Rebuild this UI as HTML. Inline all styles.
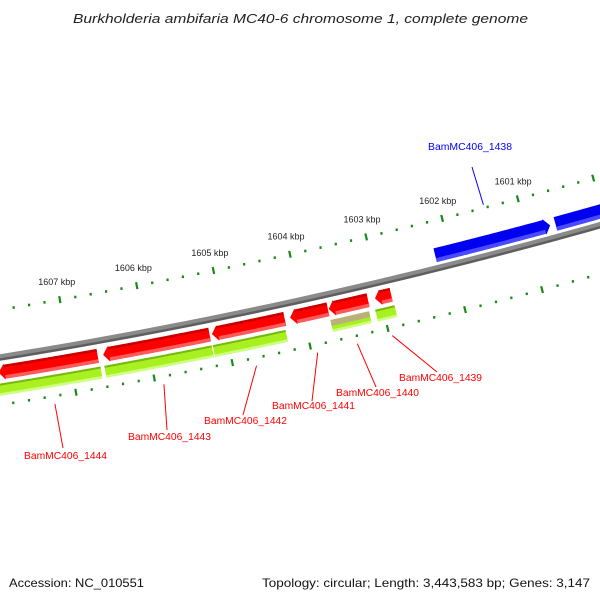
<!DOCTYPE html>
<html><head><meta charset="utf-8"><style>
html,body{margin:0;padding:0;background:#fff;}
svg{display:block;font-family:"Liberation Sans",sans-serif;}
</style></head><body>
<svg id="map" width="600" height="600" viewBox="0 0 600 600" xmlns="http://www.w3.org/2000/svg">
<text x="73" y="23" font-size="13" font-style="italic" fill="#222" textLength="455" lengthAdjust="spacingAndGlyphs">Burkholderia ambifaria MC40-6 chromosome 1, complete genome</text>
<text x="9" y="587" font-size="12" fill="#111" textLength="135" lengthAdjust="spacingAndGlyphs">Accession: NC_010551</text>
<text x="262" y="587" font-size="12" fill="#111" textLength="328" lengthAdjust="spacingAndGlyphs">Topology: circular; Length: 3,443,583 bp; Genes: 3,147</text>
<g id="layer"></g>
</svg>
<script>
// data
const tickKbp=[1601,1602,1603,1604,1605,1606,1607];
const tickLabels=['1601 kbp','1602 kbp','1603 kbp','1604 kbp','1605 kbp','1606 kbp','1607 kbp'];
const revIds=['1444','1443','1442','1441','1440','1439'];
const revStart=[1606.65,1605.21,1604.24,1603.68,1603.16,1602.86];
const revEnd=[1607.92,1606.58,1605.18,1604.17,1603.67,1603.07];
const grnStart=[1606.64,1605.21,1604.26,1603.18,1602.85];
const grnEnd=[1608.3,1606.59,1605.20,1603.68,1603.10];
const grnOlive=[false,false,false,true,false];
const fwdIds=['1438','1437'];
const fwdStart=[1600.69,1598.3];
const fwdEnd=[1602.2,1600.62];
const labelIds=['1444','1443','1442','1441','1440','1439'];

const CX=-848, CY=-4917, A0=77.59, DPK=0.846;
const NS='http://www.w3.org/2000/svg';
const layer=document.getElementById('layer');
function ang(k){return (A0+(k-1604)*DPK)*Math.PI/180;}
function pt(k,r){const a=ang(k);return [CX+r*Math.cos(a),CY+r*Math.sin(a)];}
function mk(tag,attrs){const e=document.createElementNS(NS,tag);for(const k in attrs)e.setAttribute(k,attrs[k]);layer.appendChild(e);return e;}
function arcPts(k1,k2,r){const p=[];const n=40;for(let i=0;i<=n;i++){p.push(pt(k1+(k2-k1)*i/n,r));}return p;}
function band(k1,k2,r1,r2){return arcPts(k1,k2,r1).concat(arcPts(k2,k1,r2));}
function toStr(p){return p.map(q=>q[0].toFixed(2)+','+q[1].toFixed(2)).join(' ');}
function headK(r){return (6/r)*180/Math.PI/DPK;}
function arrow(k1,k2,r1,r2,tipHigh){
  const h=headK((r1+r2)/2);const rm=(r1+r2)/2;
  if(tipHigh){const b=k2-h;return band(k1,b,r1,r2).slice(0,41).concat([pt(b,r1-1),pt(k2,rm),pt(b,r2+1)]).concat(arcPts(b,k1,r2));}
  const b=k1+h;return [pt(k1,rm),pt(b,r1-1)].concat(arcPts(b,k2,r1)).concat(arcPts(k2,b,r2)).concat([pt(b,r2+1)]);
}

// backbone
let e=mk('polygon',{points:toStr(band(1598,1609,5339,5345)),fill:'#8a8a8a'});


e=mk('polygon',{points:toStr(band(1598,1609,5343,5345.5)),fill:'#5e5e5e'});



// ticks
function ring(r,name,labels){
  for(let k=1598;k<=1609.001;k+=0.2){
    const kk=Math.round(k*10)/10;
    const major=Math.abs(kk-Math.round(kk))<0.01;
    if(major){
      const a=pt(kk,r-3.5),b=pt(kk,r+3.5);
      e=mk('line',{x1:a[0],y1:a[1],x2:b[0],y2:b[1],stroke:'#178a17','stroke-width':2.2});
      
      
    }else{
      const c=pt(kk,r);
      e=mk('rect',{x:c[0]-1,y:c[1]-1.2,width:2.2,height:2.6,fill:'#178a17'});
      
      
    }
  }
  if(labels){
    tickKbp.forEach((k,i)=>{
      const c=pt(k,5277);
      e=mk('text',{x:c[0],y:c[1]+3,'font-size':9,'text-anchor':'middle',fill:'#222'});
      e.textContent=tickLabels[i];
      
      
    });
  }
}
ring(5295,'upper-scale',true);
ring(5389,'lower-scale',false);

// forward genes (blue)
fwdIds.forEach((id,i)=>{
  e=mk('polygon',{points:toStr(arrow(fwdStart[i],fwdEnd[i],5322,5336,false)),fill:'#0000f0'});
  
  
  const s=mk('polygon',{points:toStr(band(fwdStart[i]+headK(5333),fwdEnd[i],5332,5336)),fill:'#4a4aff'});
  
  
});
// reverse genes (red)
revIds.forEach((id,i)=>{
  e=mk('polygon',{points:toStr(arrow(revStart[i],revEnd[i],5350,5364,true)),fill:'#ff0000'});
  
  
  const h=headK(5357);
  let s=mk('polygon',{points:toStr(band(revStart[i],revEnd[i]-h,5350,5352.5)),fill:'#c80000'});
  
  
  s=mk('polygon',{points:toStr(band(revStart[i],revEnd[i]-h,5360.5,5364)),fill:'#ff5a5a'});
  
  
});
// green feature track
grnStart.forEach((s0,i)=>{
  e=mk('polygon',{points:toStr(band(s0,grnEnd[i],5368,5380)),fill:'#a8f020'});
  
  
  let s=mk('polygon',{points:toStr(band(s0,grnEnd[i],5368,grnOlive[i]?5374:5370)),fill:grnOlive[i]?'#b9b07a':'#78b810'});
  
  
  s=mk('polygon',{points:toStr(band(s0,grnEnd[i],5377.5,5380)),fill:'#ccff80'});
  
  
});
(function(){const a=pt(1605.205,5368),b=pt(1605.205,5380);
e=mk('line',{x1:a[0],y1:a[1],x2:b[0],y2:b[1],stroke:'#fff','stroke-width':1});

})();

// labels
const labelPos=[[24,459,63,448],[128,440,167,430],[204,424,243,415],[272,409,312,401],[336,396,376,387],[399,381,437,372]];
labelIds.forEach((id,i)=>{
  const mid=(revStart[i]+revEnd[i])/2;const a=pt(mid,5397);const L=labelPos[i];
  e=mk('line',{x1:a[0],y1:a[1],x2:L[2],y2:L[3],stroke:'#ff0000','stroke-width':1});
  
  
  e=mk('text',{x:L[0],y:L[1],'font-size':10,fill:'#ff0000',textLength:83,lengthAdjust:'spacingAndGlyphs'});
  e.textContent='BamMC406_'+id;
  
  
});
(function(){const mid=(fwdStart[0]+fwdEnd[0])/2;const a=pt(mid,5292);
e=mk('line',{x1:a[0],y1:a[1],x2:472,y2:167,stroke:'#0000ff','stroke-width':1});


e=mk('text',{x:428,y:150,'font-size':10,fill:'#0000ff',textLength:84,lengthAdjust:'spacingAndGlyphs'});
e.textContent='BamMC406_1438';

})();
</script>
</body></html>
